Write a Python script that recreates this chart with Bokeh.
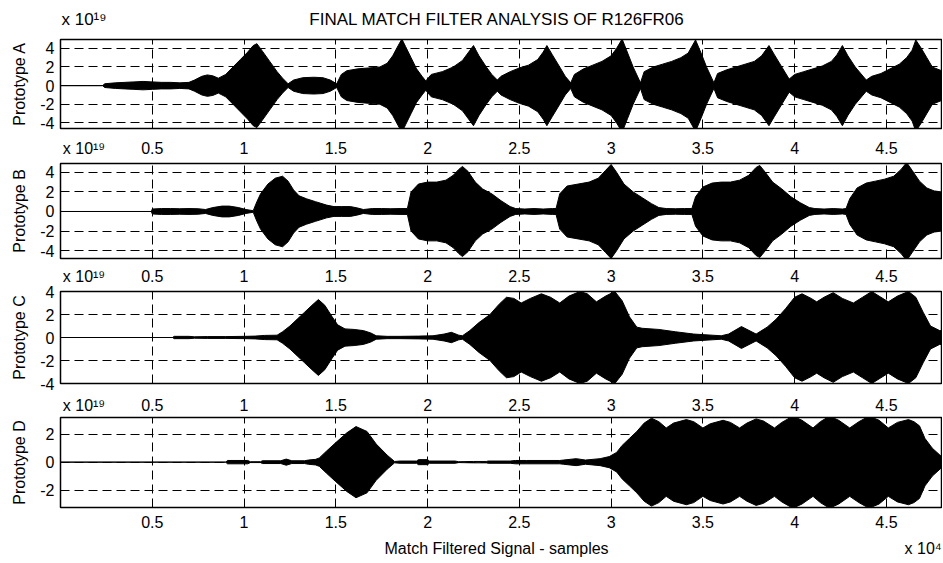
from bokeh.plotting import figure
from bokeh.layouts import column
from bokeh.models import FixedTicker, LinearAxis, Range1d
from bokeh.embed import file_html
from bokeh.resources import INLINE

FONT = "Liberation Sans"

# ---------------- data ----------------
x_ticks = [5000, 10000, 15000, 20000, 25000, 30000, 35000, 40000, 45000]
x_tick_labels = ["0.5", "1", "1.5", "2", "2.5", "3", "3.5", "4", "4.5"]
y_ticks_abc = [-4, -2, 0, 2, 4]
y_ticks_d = [-2, 0, 2]

title_text = "FINAL MATCH FILTER ANALYSIS OF R126FR06"
panel_names = ["Prototype A", "Prototype B", "Prototype C", "Prototype D"]
x_label = "Match Filtered Signal  -  samples"
y_scale_text = "x 10\u00b9\u2079"   # x 10^19
x_scale_text = "x 10\u2074"         # x 10^4

# envelope of each match-filtered signal (samples, amplitude in units of 1e19)
a_x = [0, 2300, 2400, 3000, 3500, 4000, 4500, 5000, 5500, 6000, 6500, 7000, 7300, 7700,
       8000, 8300, 8600, 9000, 9400, 9800, 10200, 10500, 10700, 11000, 11400, 11800,
       12100, 12400, 12700, 13200, 13800, 14300, 14700, 15050, 15300, 15600, 16200,
       16800, 17400, 17800, 18100, 18400, 18600, 18800, 19100, 19400, 19700, 19900,
       20200, 20800, 21400, 21900, 22200, 22500, 22800, 23200, 23500, 23800, 24000,
       24500, 25000, 25500, 26000, 26300, 26500, 26800, 27200, 27500, 27800, 28000,
       28500, 29000, 29500, 30000, 30300, 30600, 30900, 31200, 31600, 31800, 32300,
       32800, 33300, 33800, 34200, 34600, 34900, 35200, 35600, 35800, 36300, 36800,
       37300, 37800, 38200, 38600, 38900, 39300, 39700, 40000, 40500, 41000, 41500,
       42000, 42300, 42600, 42900, 43300, 43900, 44200, 44700, 45200, 45700, 46100,
       46400, 46600, 46900, 47200, 47500, 48000]
a_amp = [0, 0, 0.2, 0.3, 0.35, 0.4, 0.45, 0.4, 0.35, 0.35, 0.3, 0.35, 0.6, 1.0,
         1.15, 1.05, 0.8, 1.2, 2.0, 2.8, 3.6, 4.3, 4.5, 3.7, 2.6, 1.5,
         0.8, 0.2, 0.6, 0.85, 0.9, 0.85, 0.6, 0.2, 1.2, 1.6, 1.8,
         1.9, 2.0, 2.4, 3.2, 4.3, 5.0, 4.2, 3.0, 1.8, 1.0, 0.5,
         1.2, 1.5, 2.0, 2.7, 3.5, 4.3, 3.2, 2.0, 1.2, 0.6, 1.0,
         1.5, 1.9, 2.2, 2.8, 3.6, 4.3, 3.3, 2.0, 1.0, 0.3, 1.2,
         1.8, 2.2, 2.6, 3.2, 4.0, 5.0, 3.5, 2.0, 0.3, 1.5, 2.0,
         2.3, 2.6, 3.0, 3.5, 4.9, 3.5, 2.0, 0.3, 1.3, 1.7, 2.0,
         2.3, 2.6, 3.2, 4.3, 3.3, 2.0, 0.7, 1.2, 1.5, 1.8, 2.1,
         2.6, 3.3, 4.3, 3.2, 2.0, 0.6, 1.0, 1.3, 1.8, 2.3, 3.0,
         3.8, 4.9, 4.0, 3.0, 2.0, 1.6]

b_x = [0, 4950, 5000, 5500, 6000, 6500, 7000, 7500, 7900, 8300, 8800, 9200, 9700, 10100,
       10500, 10700, 10900, 11300, 11700, 12100, 12400, 12700, 13000, 13400, 13900,
       14500, 14900, 15300, 15800, 16200, 16500, 17000, 17500, 18000, 18500, 18900,
       19100, 19500, 20000, 20500, 21000, 21400, 21700, 21900, 22200, 22600, 23000,
       23500, 24000, 24500, 24800, 25300, 25800, 26300, 26800, 27000, 27200, 27600,
       28200, 28800, 29300, 29700, 30000, 30300, 30700, 31200, 31700, 32200, 32600,
       33000, 33500, 34000, 34400, 34600, 35000, 35500, 36000, 36500, 37000, 37500,
       37900, 38100, 38400, 38800, 39300, 39800, 40300, 40800, 41100, 41600, 42100,
       42600, 42800, 43000, 43400, 43900, 44400, 44900, 45400, 45800, 46100, 46400,
       46800, 47200, 47600, 48000]
b_amp = [0, 0, 0.25, 0.3, 0.3, 0.28, 0.3, 0.28, 0.2, 0.4, 0.55, 0.55, 0.4, 0.2,
         0.08, 1.0, 1.8, 2.8, 3.4, 3.6, 3.1, 2.2, 1.6, 1.3, 1.0,
         0.65, 0.5, 0.5, 0.5, 0.35, 0.2, 0.3, 0.3, 0.28, 0.3, 0.3,
         2.0, 2.8, 3.0, 3.0, 3.2, 3.7, 4.3, 4.6, 4.1, 3.0, 2.3,
         1.8, 1.1, 0.5, 0.3, 0.25, 0.3, 0.25, 0.3, 0.3, 1.8, 2.6,
         2.8, 3.0, 3.4, 4.2, 4.8, 4.0, 2.8, 2.0, 1.4, 0.8, 0.4,
         0.3, 0.28, 0.3, 0.3, 1.5, 2.5, 2.9, 3.0, 3.0, 3.2, 3.7,
         4.5, 4.7, 4.0, 3.0, 2.3, 1.5, 0.9, 0.4, 0.3, 0.25, 0.3,
         0.25, 0.3, 1.3, 2.4, 2.9, 3.1, 3.3, 3.6, 4.3, 5.0, 4.2,
         3.1, 2.4, 2.1, 2.0]

c_x = [0, 6100, 6200, 7000, 7300, 8000, 9000, 10000, 10600, 11100, 11800, 12100, 12500,
       12900, 13300, 13700, 14050, 14400, 14800, 15100, 15500, 16000, 16500, 16900,
       17200, 17800, 18500, 19500, 20300, 20900, 21300, 21700, 21900, 22300, 22800,
       23400, 23900, 24300, 24700, 25100, 25600, 26200, 26700, 27200, 27700, 28300,
       28700, 29200, 29700, 30200, 30600, 31000, 31400, 31700, 32600, 33500, 34500,
       35500, 36000, 36400, 37100, 37900, 38500, 39000, 39500, 40000, 40400, 40900,
       41200, 41600, 42100, 42600, 43200, 43700, 44200, 44700, 45100, 45600, 46200,
       46600, 47000, 47400, 47900, 48000]
c_amp = [0, 0, 0.1, 0.1, 0.06, 0.08, 0.08, 0.1, 0.12, 0.18, 0.2, 0.5, 1.0,
         1.6, 2.2, 2.8, 3.3, 2.8, 1.8, 1.1, 0.75, 0.7, 0.6, 0.4,
         0.15, 0.1, 0.1, 0.12, 0.15, 0.3, 0.45, 0.2, 0.15, 0.6, 1.3,
         2.0, 2.9, 3.5, 3.4, 3.0, 3.4, 3.8, 3.5, 3.0, 3.6, 4.0,
         3.8, 3.1, 3.6, 4.0, 3.2, 1.8, 0.9, 0.8, 0.7, 0.5, 0.3,
         0.2, 0.15, 0.3, 0.95, 0.3, 0.9, 1.6, 2.5, 3.5, 3.8, 3.4,
         3.1, 3.5, 3.9, 3.4, 3.0, 3.5, 4.0, 3.5, 3.1, 3.6, 4.0,
         3.5, 2.2, 1.0, 0.6, 0.6]

d_x = [0, 9000, 9100, 10200, 10350, 10900, 11000, 12000, 12300, 12600, 13300, 13500,
       13900, 14100, 14500, 15000, 15600, 16100, 16700, 17200, 17800, 18200, 18500,
       19400, 19500, 20000, 20100, 21500, 21700, 22500, 23200, 23300, 24500, 24800,
       25400, 27200, 27400, 28100, 28600, 29400, 29900, 30300, 30600, 31000, 31400,
       31800, 32200, 32600, 33000, 33400, 34100, 34500, 35000, 35400, 36100, 36500,
       37000, 37400, 37900, 38300, 38900, 39300, 39900, 40400, 41000, 41400, 41900,
       42400, 43000, 43500, 44050, 44600, 45100, 45600, 46200, 46500, 46800, 47100,
       47500, 48000]
d_amp = [0, 0, 0.12, 0.12, 0.03, 0.03, 0.1, 0.1, 0.22, 0.1, 0.1, 0.15,
         0.2, 0.3, 0.8, 1.4, 2.1, 2.55, 2.2, 1.3, 0.5, 0.05, 0.08,
         0.08, 0.18, 0.18, 0.08, 0.08, 0.03, 0.05, 0.05, 0.08, 0.08, 0.12,
         0.12, 0.12, 0.15, 0.25, 0.15, 0.25, 0.4, 0.7, 1.2, 1.7, 2.2,
         2.8, 3.15, 2.9, 2.45, 2.8, 3.05, 2.9, 2.45, 2.75, 3.0, 2.85,
         2.45, 2.8, 3.1, 2.95, 2.45, 2.85, 3.3, 3.0, 2.45, 2.9, 3.3,
         3.0, 2.45, 2.9, 3.3, 3.0, 2.45, 2.85, 3.05, 2.9, 2.6, 1.7,
         1.0, 0.4]

y_ranges = [(-4.6, 4.95), (-4.8, 4.9), (-4.0, 4.0), (-3.25, 3.2)]

# ---------------- layout (px) ----------------
# (figure height, top border, bottom border, standoff of the labels above the frame)
layout = [(133, 39, 5, 11), (127, 30, 2, 7), (133, 31, 10, 7), (169, 23, 55, 4)]
WIDTH = 942
LEFT = 60
RIGHT = 1
XMAX = 48000
SCALE_POS = 1280      # where the "x 10^19" note sits along the top edge
TITLE_POS = 23800     # centre of the title
XLABEL_POS = 24000    # centre of the x-axis title
XSCALE_POS = 47000    # "x 10^4" note

xs_all = [a_x, b_x, c_x, d_x]
amps_all = [a_amp, b_amp, c_amp, d_amp]


def style_axis(ax, ticks, labels, standoff, size="16px"):
    ax.ticker = FixedTicker(ticks=ticks)
    ax.major_label_overrides = {t: l for t, l in zip(ticks, labels)}
    ax.axis_line_color = None
    ax.major_tick_line_color = None
    ax.minor_tick_line_color = None
    ax.major_tick_out = 0
    ax.major_tick_in = 0
    ax.major_label_standoff = standoff
    ax.major_label_text_font = FONT
    ax.major_label_text_font_size = size
    ax.major_label_text_color = "black"


figs = []
for i in range(4):
    h, top, bottom, standoff = layout[i]
    lo, hi = y_ranges[i]
    p = figure(width=WIDTH, height=h, x_range=Range1d(0, XMAX), y_range=Range1d(lo, hi),
               output_backend="svg", toolbar_location=None, x_axis_location="above",
               min_border_left=LEFT, min_border_right=RIGHT,
               min_border_top=top, min_border_bottom=bottom)
    p.background_fill_color = "white"
    p.border_fill_color = "white"
    p.outline_line_color = "black"
    p.outline_line_width = 1.5

    # labels along the top edge (tick values of the panel above, scale note, title)
    if i == 0:
        style_axis(p.xaxis[0], [SCALE_POS, TITLE_POS], [y_scale_text, title_text],
                   standoff, "17px")
    else:
        style_axis(p.xaxis[0], [SCALE_POS] + x_ticks, [y_scale_text] + x_tick_labels, standoff)

    if i == 3:
        bax = LinearAxis()
        style_axis(bax, x_ticks, x_tick_labels, 8)
        p.add_layout(bax, "below")
        bax2 = LinearAxis()
        style_axis(bax2, [XLABEL_POS, XSCALE_POS], [x_label, x_scale_text], 9)
        p.add_layout(bax2, "below")

    p.xgrid.ticker = FixedTicker(ticks=x_ticks)
    p.xgrid.grid_line_color = "black"
    p.xgrid.grid_line_dash = "9 5"
    p.xgrid.grid_line_width = 1

    yt = y_ticks_d if i == 3 else y_ticks_abc
    ylabels = ["-" + str(abs(t)) if t < 0 else str(t) for t in yt]
    yax = p.yaxis[0]
    style_axis(yax, yt, ylabels, 6)
    yax.axis_label = panel_names[i]
    yax.axis_label_text_font = FONT
    yax.axis_label_text_font_size = "16px"
    yax.axis_label_text_font_style = "normal"
    yax.axis_label_text_color = "black"
    yax.axis_label_standoff = 9
    p.ygrid.ticker = FixedTicker(ticks=yt)
    p.ygrid.grid_line_color = "black"
    p.ygrid.grid_line_dash = "9 5"
    p.ygrid.grid_line_width = 1

    # signal envelope
    xs = xs_all[i]
    up = amps_all[i]
    dn = [-v for v in up]
    p.varea(x=xs, y1=dn, y2=up, fill_color="black")
    p.line(xs, up, line_color="black", line_width=1)
    p.line(xs, dn, line_color="black", line_width=1)
    figs.append(p)

layout_col = column(*figs, spacing=0)
open("out.html", "w").write(file_html(layout_col, INLINE))
